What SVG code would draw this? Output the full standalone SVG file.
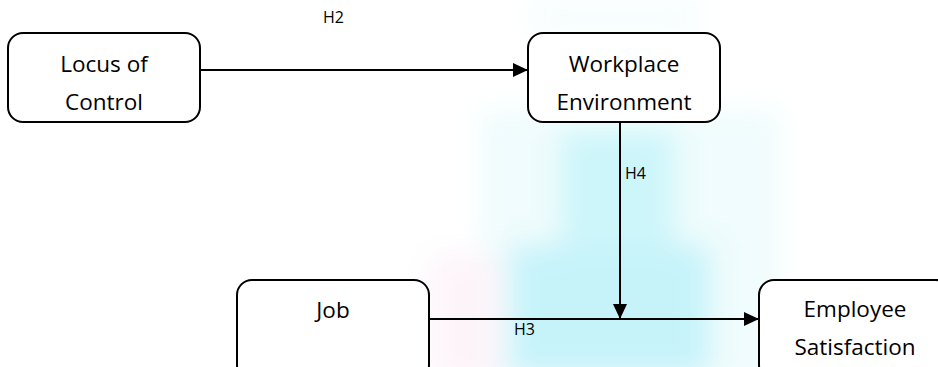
<svg xmlns="http://www.w3.org/2000/svg" width="938" height="367" viewBox="0 0 938 367">
  <style>
    .box { fill: #ffffff; stroke: #000000; stroke-width: 2; }
    .lbl { font-family: "Open Sans", "Liberation Sans", sans-serif; font-size: 22.5px; fill: #000000; text-anchor: middle; }
    .hl { font-family: "Open Sans", "Liberation Sans", sans-serif; font-size: 16px; fill: #000000; }
    .edge { stroke: #000000; stroke-width: 2; fill: none; marker-end: url(#arrow); }
  </style>
  <defs>
    <marker id="arrow" markerUnits="userSpaceOnUse" markerWidth="15" markerHeight="14" refX="15" refY="7" orient="auto">
      <path d="M0,0 L15,7 L0,14 z" fill="#000000"/>
    </marker>
    <filter id="blur" x="-30%" y="-30%" width="160%" height="160%">
      <feGaussianBlur stdDeviation="14"/>
    </filter>
  </defs>
  <rect width="938" height="367" fill="#ffffff"/>
  <g id="watermark" filter="url(#blur)">
    <rect x="480" y="110" width="300" height="280" fill="#f0fcfd"/>
    <rect x="530" y="0" width="170" height="35" fill="#f6fdfe"/>
    <rect x="430" y="255" width="70" height="130" fill="#fdf4fa"/>
    <rect x="560" y="130" width="115" height="130" fill="#cdf6fa"/>
    <rect x="510" y="245" width="200" height="130" fill="#c6f3fa"/>
  </g>
  <g id="connectors">
    <line id="e-h2" class="edge" x1="200" y1="70" x2="528" y2="70"/>
    <line id="e-h4" class="edge" x1="620" y1="123" x2="620" y2="319"/>
    <line id="e-h3" class="edge" x1="429" y1="319" x2="759" y2="319"/>
    <text class="hl" x="323" y="23">H2</text>
    <text class="hl" x="625" y="179">H4</text>
    <text class="hl" x="514" y="335">H3</text>
  </g>
  <g id="locus">
    <rect class="box" x="8" y="33" width="192" height="89" rx="15"/>
    <text class="lbl" x="104" y="72">Locus of</text>
    <text class="lbl" x="104" y="110">Control</text>
  </g>
  <g id="workplace">
    <rect class="box" x="528" y="33" width="192" height="89" rx="15"/>
    <text class="lbl" x="624" y="72">Workplace</text>
    <text class="lbl" x="624" y="110">Environment</text>
  </g>
  <g id="job">
    <rect class="box" x="237" y="280" width="192" height="100" rx="15"/>
    <text class="lbl" x="333" y="318">Job</text>
  </g>
  <g id="employee">
    <rect class="box" x="759" y="280" width="192" height="100" rx="15"/>
    <text class="lbl" x="855" y="317">Employee</text>
    <text class="lbl" x="855" y="355">Satisfaction</text>
  </g>
</svg>
